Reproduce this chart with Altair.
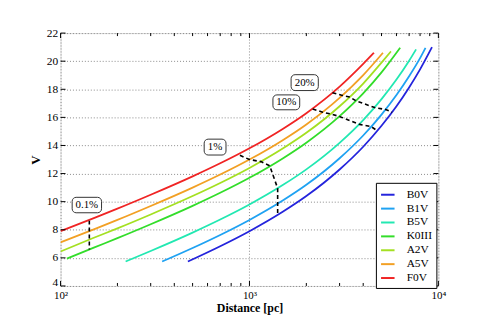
import altair as alt
import pandas as pd

# ---------------- data ----------------
stars = ["B0V", "B1V", "B5V", "K0III", "A2V", "A5V", "F0V"]
colors = ["#2424dc", "#1fa2f2", "#22e8b2", "#33dd2a", "#a4e022", "#f2a024", "#f02424"]

d_B0V = [472, 700, 1000, 1500, 2000, 3000, 4000, 5000, 6000, 7000, 8000, 9250]
V_B0V = [5.74, 6.83, 7.90, 9.28, 10.40, 12.29, 13.91, 15.40, 16.79, 18.13, 19.42, 21.0]

d_B1V = [345, 500, 700, 1000, 1500, 2000, 3000, 4000, 5000, 6000, 7000, 8000, 8550]
V_B1V = [5.74, 6.70, 7.63, 8.70, 10.08, 11.20, 13.09, 14.71, 16.20, 17.59, 18.93, 20.22, 20.95]

d_B5V = [221, 300, 500, 700, 1000, 1500, 2000, 3000, 4000, 5000, 6000, 7000, 7620]
V_B5V = [5.74, 6.49, 7.80, 8.73, 9.80, 11.18, 12.30, 14.19, 15.81, 17.30, 18.69, 20.03, 20.84]

d_K0III = [108, 150, 200, 300, 500, 700, 1000, 1500, 2000, 3000, 4000, 5000, 6280]
V_K0III = [5.95, 6.73, 7.40, 8.39, 9.70, 10.63, 11.70, 13.08, 14.20, 16.09, 17.71, 19.20, 20.96]

d_A2V = [100, 150, 200, 300, 500, 700, 1000, 1500, 2000, 3000, 4000, 5000, 5610]
V_A2V = [6.45, 7.43, 8.10, 9.09, 10.40, 11.33, 12.40, 13.78, 14.90, 16.79, 18.41, 19.90, 20.70]

d_A5V = [100, 150, 200, 300, 500, 700, 1000, 1500, 2000, 3000, 4000, 5090]
V_A5V = [7.10, 8.03, 8.70, 9.69, 11.00, 11.93, 13.00, 14.38, 15.50, 17.39, 19.01, 20.60]

d_F0V = [100, 150, 200, 300, 500, 700, 1000, 1500, 2000, 3000, 4000, 4560]
V_F0V = [7.90, 8.83, 9.50, 10.49, 11.80, 12.73, 13.80, 15.18, 16.30, 18.19, 19.81, 20.60]

# dashed contour lines
cont_names = ["0.1%", "1%", "10%", "20%"]
cont_d = [
    [142, 142, 142, 142],
    [890, 1000, 1150, 1280, 1410, 1410, 1410],
    [2160, 2440, 2690, 2990, 3830, 4400, 4745],
    [2750, 3105, 3400, 3660, 4600, 5260, 5690],
]
cont_V = [
    [8.65, 7.95, 7.30, 6.60],
    [13.30, 13.00, 12.85, 12.55, 10.95, 9.85, 9.05],
    [16.60, 16.37, 16.24, 16.07, 15.50, 15.35, 15.05],
    [17.75, 17.56, 17.45, 17.18, 16.70, 16.56, 16.37],
]

# annotation boxes (extent in data units)
box_text = ["0.1%", "1%", "10%", "20%"]
box_d0 = [115.2, 575.8, 1331, 1661]
box_d1 = [164.8, 751.2, 1845, 2314]
box_V0 = [9.21, 13.32, 16.54, 17.91]
box_V1 = [10.31, 14.45, 17.60, 19.04]

x_major = [100, 1000, 10000]
x_minor = [200, 300, 400, 500, 600, 700, 800, 900,
           2000, 3000, 4000, 5000, 6000, 7000, 8000, 9000]
y_major = [4, 6, 8, 10, 12, 14, 16, 18, 20, 22]

# ---------------- tables ----------------
series = {
    "B0V": (d_B0V, V_B0V), "B1V": (d_B1V, V_B1V), "B5V": (d_B5V, V_B5V),
    "K0III": (d_K0III, V_K0III), "A2V": (d_A2V, V_A2V), "A5V": (d_A5V, V_A5V),
    "F0V": (d_F0V, V_F0V),
}
rows = []
for name, (ds, vs) in series.items():
    for i, (d, v) in enumerate(zip(ds, vs)):
        rows.append({"star": name, "d": d, "V": v, "i": i})
curves = pd.DataFrame(rows)

crow = []
for name, ds, vs in zip(cont_names, cont_d, cont_V):
    for i, (d, v) in enumerate(zip(ds, vs)):
        crow.append({"c": name, "d": d, "V": v, "i": i})
conts = pd.DataFrame(crow)

boxes = pd.DataFrame({"t": box_text, "d0": box_d0, "d1": box_d1, "V0": box_V0, "V1": box_V1})
boxes["d"] = (boxes["d0"] * boxes["d1"]) ** 0.5
boxes["V"] = (boxes["V0"] + boxes["V1"]) / 2

FONT = "Liberation Serif"
W, H = 381, 255

xscale = alt.Scale(type="log", domain=[100, 10000], nice=False)
yscale = alt.Scale(domain=[4, 22], nice=False, zero=False)

xaxis = alt.Axis(
    values=x_major, title="Distance [pc]", grid=True, ticks=False, domain=False,
    gridDash=[1, 2], gridColor="#8a8a8a", gridWidth=1,
    labelExpr="datum.value == 100 ? '10²' : (datum.value == 1000 ? '10³' : '10⁴')",
    labelFont=FONT, labelFontSize=11, labelColor="black", labelPadding=4,
    labelFlush=False, labelOverlap=False,
    titleFont=FONT, titleFontSize=12, titleFontWeight="bold", titleColor="black",
    titlePadding=2,
)
yaxis = alt.Axis(
    values=y_major, title="V", grid=True, ticks=False, domain=False,
    gridDash=[1, 2], gridColor="#8a8a8a", gridWidth=1,
    labelFont=FONT, labelFontSize=11.5, labelColor="black", labelPadding=3,
    labelFlush=False, labelOverlap=False,
    labelBaseline={"condition": {"test": "datum.value == 4", "value": "alphabetic"},
                   "value": "middle"},
    titleFont=FONT, titleFontSize=13, titleFontWeight="bold", titleColor="black",
    titlePadding=4,
)


def X(f):
    return alt.X(f"{f}:Q", scale=xscale, axis=xaxis)


def Y(f):
    return alt.Y(f"{f}:Q", scale=yscale, axis=yaxis)


lines = alt.Chart(curves).mark_line(strokeWidth=1.8, interpolate="monotone", clip=True).encode(
    x=X("d"), y=Y("V"),
    color=alt.Color("star:N", scale=alt.Scale(domain=stars, range=colors),
                    legend=alt.Legend(
                        title=None, orient="none", legendX=318, legendY=151,
                        symbolType="stroke", symbolSize=185, symbolStrokeWidth=2,
                        labelFont=FONT, labelFontSize=11.5, labelColor="black",
                        labelOffset=11, rowPadding=0, padding=4,
                        strokeColor="black", fillColor="white")),
    order="i:Q",
)

dashed = alt.Chart(conts).mark_line(strokeWidth=1.6, strokeDash=[4, 3], color="black").encode(
    x=X("d"), y=Y("V"), detail="c:N", order="i:Q",
)

rect = alt.Chart(boxes).mark_rect(cornerRadius=4, fill="white", stroke="#333333", strokeWidth=1).encode(
    x=X("d0"), x2="d1:Q", y=Y("V0"), y2="V1:Q",
)
txt = alt.Chart(boxes).mark_text(font=FONT, fontSize=11, color="black", baseline="middle").encode(
    x=X("d"), y=Y("V"), text="t:N",
)

xmaj = pd.DataFrame({"d": x_major})
xmin = pd.DataFrame({"d": x_minor})
ymaj = pd.DataFrame({"V": y_major})

tk = dict(color="black", strokeWidth=1)
ticks = [
    alt.Chart(xmaj).mark_rule(**tk).encode(x=X("d"), y=alt.value(H), y2=alt.value(H - 5)),
    alt.Chart(xmaj).mark_rule(**tk).encode(x=X("d"), y=alt.value(0), y2=alt.value(5)),
    alt.Chart(xmin).mark_rule(**tk).encode(x=X("d"), y=alt.value(H), y2=alt.value(H - 3)),
    alt.Chart(xmin).mark_rule(**tk).encode(x=X("d"), y=alt.value(0), y2=alt.value(3)),
    alt.Chart(ymaj).mark_rule(**tk).encode(y=Y("V"), x=alt.value(0), x2=alt.value(5)),
    alt.Chart(ymaj).mark_rule(**tk).encode(y=Y("V"), x=alt.value(W), x2=alt.value(W - 5)),
]

chart = alt.layer(lines, dashed, *ticks, rect, txt).properties(
    width=W, height=H,
    autosize=alt.AutoSizeParams(type="none"),
    padding={"left": 53, "top": 24, "right": 45, "bottom": 30},
).configure_view(stroke="black", strokeWidth=1.4).configure(background="white")

chart.save("out.html", embed_options={"renderer": "svg", "actions": False})
